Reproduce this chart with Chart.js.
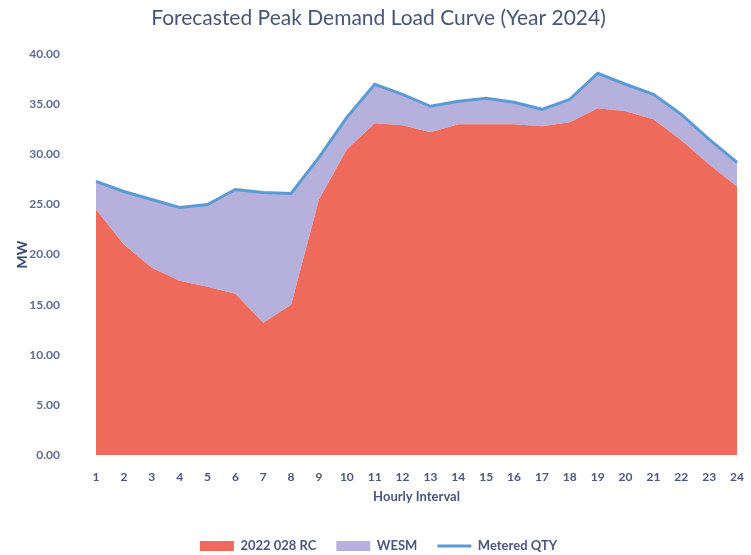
<!DOCTYPE html>
<html>
<head>
<meta charset="utf-8">
<script src="https://cdn.jsdelivr.net/npm/chart.js@4/dist/chart.umd.min.js"></script>
<style>
  html, body { margin: 0; padding: 0; background: #ffffff; }
  #wrap { width: 751px; height: 555px; }
</style>
</head>
<body>
<div id="wrap"><canvas id="chart" width="751" height="555"></canvas></div>
<script>
// Hourly intervals 1..24
const hours = ['1','2','3','4','5','6','7','8','9','10','11','12','13','14','15','16','17','18','19','20','21','22','23','24'];

// 2022 028 RC contracted capacity (MW)
const rcValues = [24.5, 21.0, 18.7, 17.4, 16.8, 16.1, 13.2, 15.0, 25.5, 30.5, 33.1, 32.9,
                  32.2, 33.0, 33.0, 33.0, 32.8, 33.2, 34.6, 34.3, 33.5, 31.4, 29.0, 26.8];

// Metered quantity (MW) - total demand
const meteredValues = [27.3, 26.3, 25.5, 24.7, 25.0, 26.5, 26.2, 26.1, 29.7, 33.7, 37.0, 36.0,
                       34.8, 35.3, 35.6, 35.2, 34.5, 35.5, 38.1, 37.0, 36.0, 34.0, 31.5, 29.2];

// WESM share is the portion of metered demand above the RC contract
const wesmValues = meteredValues.map((m, i) => +(m - rcValues[i]).toFixed(2));

const FONT = 'Lato, "Open Sans", sans-serif';

new Chart(document.getElementById('chart'), {
  type: 'line',
  data: {
    labels: hours,
    datasets: [
      {
        label: '2022 028 RC',
        data: rcValues,
        stack: 'supply',
        fill: 'origin',
        backgroundColor: '#ee6b5c',
        borderWidth: 0,
        borderColor: '#ee6b5c',
        pointRadius: 0,
        pointStyle: 'rect',
        tension: 0
      },
      {
        label: 'WESM',
        data: wesmValues,
        stack: 'supply',
        fill: '-1',
        backgroundColor: '#b5b1dc',
        borderWidth: 0,
        borderColor: '#b5b1dc',
        pointRadius: 0,
        pointStyle: 'rect',
        tension: 0
      },
      {
        label: 'Metered QTY',
        data: meteredValues,
        stack: 'metered',
        fill: false,
        borderColor: '#5b9bd5',
        backgroundColor: '#5b9bd5',
        borderWidth: 3,
        pointRadius: 0,
        pointStyle: 'line',
        tension: 0
      }
    ]
  },
  options: {
    responsive: false,
    animation: false,
    layout: { padding: { left: 16, right: 10, top: 0, bottom: 0 } },
    plugins: {
      filler: { drawTime: 'beforeDatasetsDraw' },
      title: {
        display: true,
        text: 'Forecasted Peak Demand Load Curve (Year 2024)',
        color: '#46557a',
        font: { family: FONT, size: 21, weight: 'normal' },
        padding: { top: 6, bottom: 23 }
      },
      legend: {
        position: 'bottom',
        maxHeight: 35.5,
        labels: {
          usePointStyle: true,
          pointStyleWidth: 34,
          boxHeight: 10,
          padding: 20,
          color: '#4a5585',
          font: { family: FONT, size: 13, weight: 'bold' }
        }
      },
      tooltip: { enabled: false }
    },
    scales: {
      x: {
        offset: false,
        grid: { display: false },
        border: { display: false },
        ticks: {
          padding: 7,
          color: '#4a5585',
          font: { family: FONT, size: 12, weight: 'bold' },
          maxRotation: 0,
          autoSkip: false
        },
        title: {
          display: true,
          text: 'Hourly Interval',
          color: '#4a5585',
          font: { family: FONT, size: 13, weight: 'bold' },
          padding: { top: 0, bottom: 14.7 }
        },
        afterFit: (scale) => { scale.height = 64.5; }
      },
      y: {
        stacked: true,
        min: 0,
        max: 40,
        grid: { display: false },
        border: { display: false },
        ticks: {
          stepSize: 5,
          padding: 28,
          color: '#5f6b98',
          font: { family: FONT, size: 12, weight: 'bold' },
          callback: (v) => Number(v).toFixed(2)
        },
        title: {
          display: true,
          text: 'MW',
          color: '#3b4a6e',
          font: { family: FONT, size: 14, weight: 'bold' },
          padding: { top: -2, bottom: 0 }
        },
        afterFit: (scale) => { scale.width = 80; }
      }
    }
  }
});
</script>
</body>
</html>
